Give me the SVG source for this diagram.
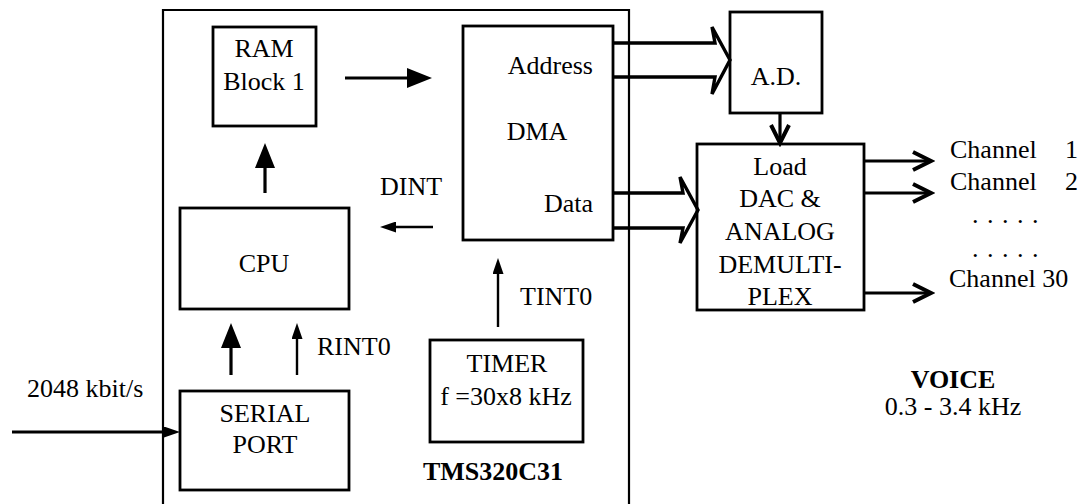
<svg xmlns="http://www.w3.org/2000/svg" width="1081" height="504" viewBox="0 0 1081 504">
<style>
  text { font-family: "Liberation Serif", "Times New Roman", Times, "DejaVu Serif", serif; font-size: 26px; fill: #000; }
  .b { font-weight: bold; }
  .m { text-anchor: middle; }
  .e { text-anchor: end; }
  .box { fill: #fff; stroke: #000; stroke-width: 2.8; }
  .outer { fill: none; stroke: #000; stroke-width: 2.2; }
  .thick { stroke: #000; stroke-width: 3.2; fill: none; }
  .thin { stroke: #000; stroke-width: 2.4; fill: none; }
  .bus { stroke: #000; stroke-width: 3.4; fill: none; stroke-linejoin: miter; }
</style>
<defs>
  <marker id="big" markerUnits="userSpaceOnUse" viewBox="0 0 25 20" markerWidth="25" markerHeight="20" refX="17" refY="10" orient="auto">
    <path d="M0,0 L25,10 L0,20 z" fill="#000"/>
  </marker>
  <marker id="small" markerUnits="userSpaceOnUse" viewBox="0 0 16 11" markerWidth="16" markerHeight="11" refX="10" refY="5.5" orient="auto">
    <path d="M0,0 L16,5.5 L0,11 z" fill="#000"/>
  </marker>
  <marker id="chev" markerUnits="userSpaceOnUse" viewBox="-4 -4 26 26" markerWidth="26" markerHeight="26" refX="17" refY="9" orient="auto">
    <path d="M0,0 L18,9 L0,18" fill="none" stroke="#000" stroke-width="4"/>
  </marker>
</defs>

<g id="tms320c31">
  <path class="outer" d="M163,512 V10 H629 V512"/>
  <text class="b m" x="493" y="480">TMS320C31</text>
</g>

<g id="ram">
  <rect class="box" x="213" y="27" width="103" height="99"/>
  <text class="m" x="264" y="57">RAM</text>
  <text class="m" x="264" y="90">Block 1</text>
</g>

<g id="dma">
  <rect class="box" x="463" y="26" width="150" height="214"/>
  <text class="e" x="593" y="74">Address</text>
  <text class="m" x="537" y="140">DMA</text>
  <text class="e" x="593" y="212">Data</text>
</g>

<g id="cpu">
  <rect class="box" x="180" y="208" width="169" height="101"/>
  <text class="m" x="264" y="272">CPU</text>
</g>

<g id="serial">
  <rect class="box" x="180" y="391" width="169" height="99"/>
  <text class="m" x="265" y="422">SERIAL</text>
  <text class="m" x="265" y="453">PORT</text>
</g>

<g id="timer">
  <rect class="box" x="430" y="340" width="153" height="102"/>
  <text class="m" x="507" y="372">TIMER</text>
  <text class="m" x="506" y="405">f =30x8 kHz</text>
</g>

<g id="ad">
  <rect class="box" x="730" y="12" width="92" height="101"/>
  <text class="m" x="776" y="85">A.D.</text>
</g>

<g id="demux">
  <rect class="box" x="697" y="144" width="167" height="166"/>
  <text class="m" x="780" y="175">Load</text>
  <text class="m" x="780" y="207">DAC &amp;</text>
  <text class="m" x="780" y="240">ANALOG</text>
  <text class="m" x="780" y="273">DEMULTI-</text>
  <text class="m" x="780" y="305">PLEX</text>
</g>

<g id="outputs">
  <text x="950" y="158">Channel<tspan x="1065">1</tspan></text>
  <text x="950" y="190">Channel<tspan x="1065">2</tspan></text>
  <text x="972 987 1002 1017 1032" y="223">.....</text>
  <text x="972 987 1002 1017 1032" y="257">.....</text>
  <text x="949" y="287">Channel 30</text>
</g>

<g id="voice">
  <text class="b m" x="953" y="388">VOICE</text>
  <text class="m" x="953" y="415">0.3 - 3.4 kHz</text>
</g>

<g id="input">
  <text x="27" y="397">2048 kbit/s</text>
</g>

<g id="connectors">
  <line class="thick" x1="345" y1="78" x2="424" y2="78" marker-end="url(#big)"/>
  <line class="thick" x1="265" y1="193" x2="265" y2="151" marker-end="url(#big)"/>
  <line class="thick" x1="231" y1="375" x2="231" y2="331" marker-end="url(#big)"/>
  <line class="thin" x1="433" y1="227" x2="386" y2="227" marker-end="url(#small)"/>
  <text x="380" y="195">DINT</text>
  <line class="thin" x1="297" y1="375" x2="297" y2="329" marker-end="url(#small)"/>
  <text x="317" y="355">RINT0</text>
  <line class="thin" x1="498" y1="327" x2="498" y2="264" marker-end="url(#small)"/>
  <text x="520" y="305">TINT0</text>
  <line class="thick" x1="12" y1="432" x2="174" y2="432" marker-end="url(#small)"/>
  <path class="bus" d="M613,43 H715 L712,27 L730,60 L712,94 L715,77 H613"/>
  <path class="bus" d="M613,193 H683 L680,177 L698,210 L680,243 L683,228 H613"/>
  <line class="thick" x1="780" y1="113" x2="780" y2="142" marker-end="url(#chev)"/>
  <line class="thick" x1="864" y1="161" x2="930" y2="161" marker-end="url(#chev)"/>
  <line class="thick" x1="864" y1="193" x2="930" y2="193" marker-end="url(#chev)"/>
  <line class="thick" x1="864" y1="293" x2="930" y2="293" marker-end="url(#chev)"/>
</g>
</svg>
